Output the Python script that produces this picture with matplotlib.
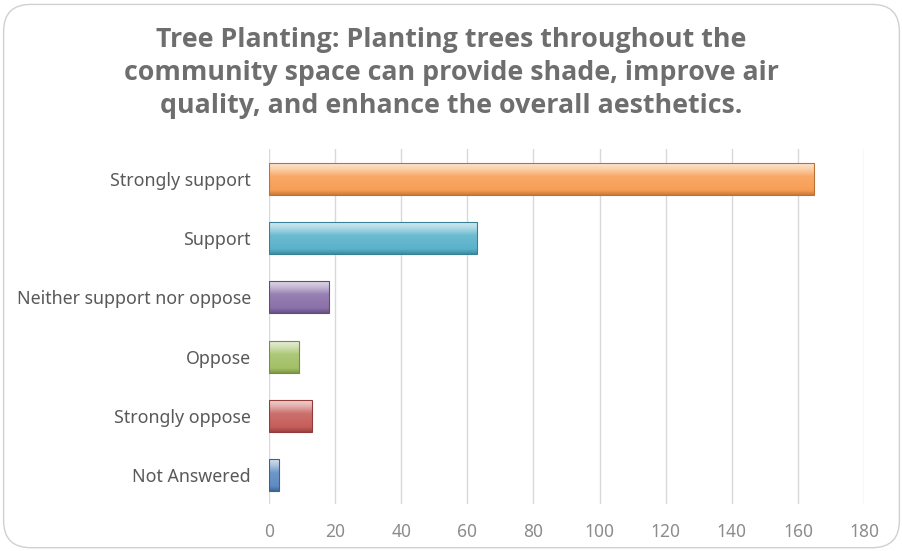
import matplotlib
matplotlib.use("Agg")
import matplotlib.pyplot as plt
import numpy as np
from matplotlib.patches import FancyBboxPatch
from matplotlib.colors import to_rgb

categories = ["Strongly support", "Support", "Neither support nor oppose",
              "Oppose", "Strongly oppose", "Not Answered"]
values = [165, 63, 18, 9, 13, 3]
colors = ["#F79646", "#4BACC6", "#8064A2", "#9BBB59", "#C0504D", "#4F81BD"]
xticks = [0, 20, 40, 60, 80, 100, 120, 140, 160, 180]
title = ("Tree Planting: Planting trees throughout the\n"
         "community space can provide shade, improve air\n"
         "quality, and enhance the overall aesthetics.")

fig = plt.figure(figsize=(9.03, 5.51), dpi=100)
fig.patch.set_facecolor("white")

border = FancyBboxPatch((0.004, 0.006), 0.992, 0.986, boxstyle="round,pad=0,rounding_size=0.03",
                        transform=fig.transFigure, facecolor="none", edgecolor="#d0d0d0",
                        linewidth=1.0, mutation_aspect=903/551, zorder=-5)
fig.patches.append(border)

ax = fig.add_axes([0.2979, 0.0844, 0.659, 0.6443])
ax.set_facecolor("none")

y = np.arange(len(categories))
bar_h = 0.54
bars = ax.barh(y, values, height=bar_h, color=colors, zorder=3, edgecolor="none")

ax.set_xlim(0, 180)
ax.set_ylim(len(categories) - 0.5, -0.5)

def lighten(c, f):
    r = np.array(to_rgb(c))
    return r + (1 - r) * f

def darken(c, f):
    return np.array(to_rgb(c)) * (1 - f)

for b, c in zip(bars, colors):
    n = 64
    t = np.linspace(0, 1, n)
    stops = [(0.0, lighten(c, 0.75)), (0.18, lighten(c, 0.55)), (0.42, lighten(c, 0.18)),
             (0.85, lighten(c, 0.08)), (1.0, darken(c, 0.18))]
    img = np.zeros((n, 2, 3))
    for i, tt in enumerate(t):
        for k in range(len(stops) - 1):
            if stops[k][0] <= tt <= stops[k + 1][0]:
                a = (tt - stops[k][0]) / (stops[k + 1][0] - stops[k][0])
                col = stops[k][1] * (1 - a) + stops[k + 1][1] * a
                break
        img[i, :, :] = np.clip(col, 0, 1)
    x0, y0 = b.get_x(), b.get_y()
    w, h = b.get_width(), b.get_height()
    im = ax.imshow(img, extent=[x0, x0 + w, y0 + h, y0], aspect="auto",
                   origin="upper", zorder=4, interpolation="bilinear")
    im.set_clip_path(b)
    ax.barh(b.get_y() + h / 2, w, height=h, left=x0, facecolor="none",
            edgecolor=darken(c, 0.25), linewidth=0.8, zorder=5)

ax.set_xlim(0, 180)
ax.set_ylim(len(categories) - 0.5, -0.5)

ax.set_xticks(xticks)
ax.set_xticklabels([str(v) for v in xticks])
ax.set_yticks(y)
ax.set_yticklabels(categories)
ax.grid(axis="x", color="#d9d9d9", linewidth=1.0, zorder=0)
for s in ax.spines.values():
    s.set_visible(False)
ax.tick_params(axis="y", length=0, pad=13, labelsize=12.8, labelcolor="#595959")
ax.tick_params(axis="x", length=0, pad=13, labelsize=12.5, labelcolor="#8c8c8c")
for lab in ax.get_yticklabels() + ax.get_xticklabels():
    lab.set_family("Noto Sans")

fig.text(0.5, 0.868, title, ha="center", va="center", fontsize=19.3, fontweight="bold",
         color="#6e6e6e", family="Open Sans", linespacing=1.36)

fig.savefig("out.png", dpi=100, facecolor="white")
